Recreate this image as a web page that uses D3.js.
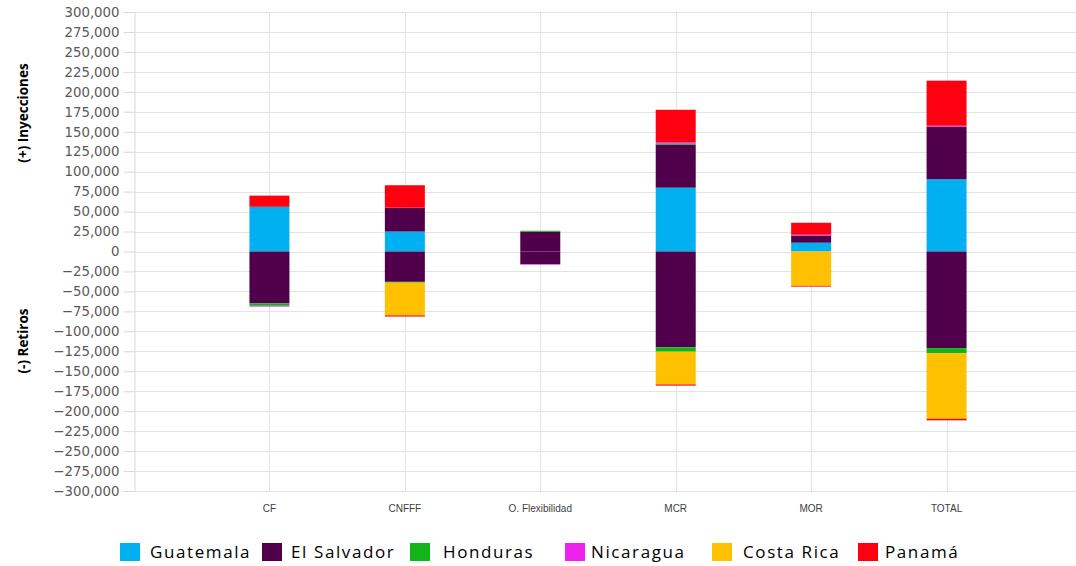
<!DOCTYPE html>
<html><head><meta charset="utf-8">
<script src="https://cdn.jsdelivr.net/npm/d3@7"></script>
<style>
html,body{margin:0;padding:0;background:#fff;}
svg{display:block;}
</style></head>
<body><svg id="c" width="1076" height="566"></svg>
<script>
const categories = ["CF", "CNFFF", "O. Flexibilidad", "MCR", "MOR", "TOTAL"];
const countries = ["Guatemala", "El Salvador", "Honduras", "Nicaragua", "Costa Rica", "Panamá"];
const colors = ["#00B0F0", "#50004B", "#12B41A", "#EE22EE", "#FFC000", "#FF0010"];
// (+) Inyecciones
const guatemalaIny  = [56000, 25000, 0, 80000, 11000, 90500];
const elSalvadorIny = [0, 30000, 25000, 54000, 9000, 66000];
const hondurasIny   = [0, 0, 1000, 1500, 0, 0];
const nicaraguaIny  = [0, 0, 0, 1500, 1000, 1000];
const costaRicaIny  = [0, 0, 0, 0, 0, 0];
const panamaIny     = [14000, 28000, 0, 40500, 15000, 56500];
// (-) Retiros
const guatemalaRet  = [0, 0, 0, 0, 0, 0];
const elSalvadorRet = [-65000, -38000, -16000, -120000, 0, -121000];
const hondurasRet   = [-3000, -1000, 0, -5500, 0, -6500];
const nicaraguaRet  = [-1000, 0, -500, 0, 0, 0];
const costaRicaRet  = [0, -41000, 0, -41000, -43000, -82000];
const panamaRet     = [0, -1500, 0, -1500, -1000, -2000];
const yTicks = d3.range(-300000, 300001, 25000);

const iny = [guatemalaIny, elSalvadorIny, hondurasIny, nicaraguaIny, costaRicaIny, panamaIny];
const ret = [guatemalaRet, elSalvadorRet, hondurasRet, nicaraguaRet, costaRicaRet, panamaRet];

const keys = [];
countries.forEach((c) => { keys.push(c + "|+"); keys.push(c + "|-"); });
const table = categories.map((cat, j) => {
  const row = {cat};
  countries.forEach((c, i) => { row[c + "|+"] = iny[i][j]; row[c + "|-"] = ret[i][j]; });
  return row;
});
const series = d3.stack().keys(keys).offset(d3.stackOffsetDiverging)(table);

const svg = d3.select("#c");
const pLeft = 134, pRight = 1082, pTop = 12, pBottom = 491;
const x = d3.scalePoint().domain(categories).range([pLeft, pRight]).padding(1);
const y = d3.scaleLinear().domain([-300000, 300000]).range([pBottom, pTop]);
const barW = 40;
const fmt = d3.format(",");

svg.append("g").selectAll("line").data(yTicks).join("line")
  .attr("x1", pLeft).attr("x2", 1076)
  .attr("y1", d => Math.round(y(d)) + 0.5).attr("y2", d => Math.round(y(d)) + 0.5)
  .attr("stroke", "#e3e3e3").attr("stroke-width", 1);
svg.append("g").selectAll("line").data(categories).join("line")
  .attr("x1", d => Math.round(x(d)) + 0.5).attr("x2", d => Math.round(x(d)) + 0.5)
  .attr("y1", pTop).attr("y2", pBottom)
  .attr("stroke", "#e3e3e3").attr("stroke-width", 1);

const yAxis = svg.append("g").attr("transform", `translate(${pLeft + 0.5},0)`)
  .call(d3.axisLeft(y).tickValues(yTicks).tickFormat(fmt).tickSize(11).tickPadding(4));
yAxis.select(".domain").attr("stroke", "#d9d9d9");
yAxis.selectAll(".tick line").attr("stroke", "#d9d9d9");
yAxis.selectAll(".tick text").attr("fill", "#595959")
  .style("font-family", "DejaVu Sans").style("font-size", "13.3px");

svg.append("g").selectAll("g").data(series).join("g")
  .attr("fill", d => colors[countries.indexOf(d.key.split("|")[0])])
  .selectAll("rect").data(d => d).join("rect")
  .attr("x", d => x(d.data.cat) - barW / 2)
  .attr("width", barW)
  .attr("y", d => y(Math.max(d[0], d[1])))
  .attr("height", d => Math.abs(y(d[0]) - y(d[1])));

svg.append("g").selectAll("text").data(categories).join("text")
  .attr("x", d => x(d)).attr("y", 512)
  .attr("text-anchor", "middle")
  .attr("fill", "#404040")
  .style("font-family", "Liberation Sans Narrow, Liberation Sans").style("font-size", "10px")
  .text(d => d);

const titles = [["(+) Inyecciones", 113], ["(-) Retiros", 341]];
svg.append("g").selectAll("text").data(titles).join("text")
  .attr("transform", d => `translate(28,${d[1]}) rotate(-90)`)
  .attr("text-anchor", "middle")
  .attr("fill", "#000")
  .style("font-family", "Open Sans").style("font-weight", "bold").style("font-size", "13.5px")
  .text(d => d[0]);

const legendX = [120, 262, 410, 565, 712, 858];
const textOff = [30, 29, 33, 26, 31, 27];
const lg = svg.append("g").selectAll("g").data(countries).join("g")
  .attr("transform", (d, i) => `translate(${legendX[i]},543)`);
lg.append("rect").attr("width", 20).attr("height", 18).attr("fill", (d, i) => colors[i]);
lg.append("text").attr("x", (d, i) => textOff[i]).attr("y", 15)
  .attr("fill", "#000")
  .style("font-family", "Open Sans").style("font-size", "17px").style("letter-spacing", "1.6px")
  .text(d => d);
</script></body></html>
